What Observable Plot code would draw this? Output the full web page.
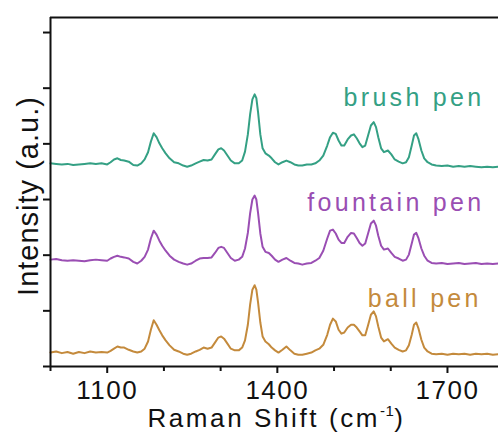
<!DOCTYPE html>
<html><head><meta charset="utf-8">
<script src="https://cdn.jsdelivr.net/npm/d3@7"></script>
<script src="https://cdn.jsdelivr.net/npm/@observablehq/plot@0.6"></script>
<style>
html,body{margin:0;padding:0;background:#fff;}
#chart svg text{letter-spacing:1.5px;}
#chart text.series-label{letter-spacing:3.3px;}
#chart text.y-title{letter-spacing:1px;}
#chart text.x-title{letter-spacing:2.6px;}
#chart tspan.sup{font-size:15px;letter-spacing:0.5px;}
</style></head><body><div id="chart"></div>
<script>
const shift = [1000,1010,1020,1030,1040,1050,1060,1070,1080,1090,
1100,1106,1112,1118,1124,1130,1138,1146,1153,1160,
1166,1172,1177,1182,1187,1192,1197,1203,1210,1218,
1226,1234,1241,1248,1256,1263,1270,1277,1284,1290,
1296,1301,1306,1312,1318,1325,1332,1338,1343,1348,
1352,1356,1360,1363,1366,1370,1374,1379,1385,1390,
1396,1402,1409,1416,1423,1430,1437,1444,1452,1460,
1467,1474,1481,1488,1493,1498,1503,1508,1513,1518,
1524,1530,1535,1540,1545,1550,1555,1560,1565,1570,
1574,1578,1583,1588,1595,1601,1607,1614,1621,1627,
1632,1637,1641,1645,1649,1654,1659,1665,1672,1680,
1690,1700,1710,1720,1730,1740,1750,1760,1770,1780,
1790];
const brushPen = [.02,.01,0,.01,-.01,0,.01,.02,.01,.02,
0,.04,.09,.11,.08,.07,.05,-.01,-.02,.02,
.09,.22,.41,.56,.49,.38,.29,.20,.11,.04,
.02,-.02,-.04,-.02,.02,.05,.08,.07,.09,.18,
.27,.29,.25,.16,.07,.02,.02,.07,.23,.54,
.90,1.17,1.26,1.19,.94,.54,.29,.20,.16,.11,
.04,0,.04,.07,.04,0,-.02,-.02,0,0,
.02,.07,.16,.34,.49,.57,.55,.43,.34,.34,
.45,.52,.54,.47,.38,.31,.34,.52,.70,.76,
.67,.49,.29,.22,.25,.18,.09,.05,.02,.04,
.13,.34,.52,.56,.45,.25,.11,.04,0,-.02,
-.03,-.02,-.04,-.03,-.04,-.03,-.04,-.05,-.04,-.05,
-.04];
const fountainPen = [.02,.03,.01,0,.01,0,-.01,.01,.02,.01,
0,.04,.07,.09,.07,.06,.04,-.02,-.05,0,
.07,.20,.40,.54,.47,.36,.27,.18,.09,.02,
-.02,-.05,-.07,-.05,0,.04,.05,.05,.06,.14,
.23,.25,.23,.14,.05,0,.02,.07,.22,.50,
.85,1.10,1.17,1.10,.86,.49,.25,.16,.14,.09,
.02,-.02,.02,.05,0,-.04,-.05,-.07,-.05,-.04,
0,.05,.18,.40,.54,.56,.49,.38,.32,.32,
.43,.50,.49,.41,.32,.27,.31,.49,.67,.72,
.63,.45,.27,.20,.22,.14,.07,.04,0,.02,
.11,.31,.47,.50,.40,.22,.09,0,-.04,-.05,
-.04,-.06,-.05,-.04,-.06,-.05,-.04,-.06,-.05,-.06,
-.05];
const ballPen = [0,.02,-.01,.01,-.02,.01,-.01,.02,0,.01,
0,.03,.07,.11,.09,.09,.05,.02,0,.02,
.07,.20,.41,.58,.50,.40,.31,.22,.13,.05,
.02,-.02,-.04,-.02,.02,.05,.09,.07,.09,.18,
.27,.29,.25,.16,.07,.04,.04,.09,.22,.50,
.86,1.13,1.21,1.13,.90,.54,.29,.20,.15,.09,
.04,0,.05,.11,.04,-.02,-.04,-.04,-.02,0,
.04,.07,.14,.32,.50,.61,.56,.41,.34,.36,
.45,.50,.50,.45,.38,.31,.31,.49,.68,.74,
.65,.47,.27,.20,.24,.16,.09,.05,.02,.04,
.13,.32,.50,.54,.43,.23,.09,.02,-.02,-.03,
-.02,-.04,-.02,-.03,-.02,-.04,-.02,-.03,-.02,-.04,
-.03];
const seriesNames = ["ball pen","fountain pen","brush pen"];
const seriesValues = [ballPen, fountainPen, brushPen];
const seriesOffsets = [0.25, 1.90, 3.63];
const seriesColors = ["#c48a3c","#9a4eb3","#34a084"];
const labelShift = [1660, 1609, 1641];
const labelIntensity = [1.21, 2.94, 4.83];
const majorTicks = [1100, 1400, 1700];
const minorTicks = [1000, 1200, 1300, 1500, 1600];
const yTicks = [0, 1, 2, 3, 4, 5, 6];
const xDomain = [1000, 1790];
const yDomain = [0, 6.27];
const xTitleMain = "Raman Shift (cm", xTitleSup = "-1", xTitleEnd = ")";
const yTitle = "Intensity (a.u.)";

const data = seriesNames.flatMap((s, i) =>
  shift.map((x, j) => ({x, y: seriesOffsets[i] + seriesValues[i][j], s})));

const xTitle = xTitleMain + xTitleSup + xTitleEnd;
const chart = Plot.plot({
  width: 498, height: 437,
  marginLeft: 50, marginRight: 0, marginTop: 17, marginBottom: 71,
  style: {fontFamily: "'Liberation Sans', Arial, sans-serif", fontSize: "26px", color: "#111", background: "#fff"},
  x: {domain: xDomain},
  y: {domain: yDomain},
  color: {domain: seriesNames, range: seriesColors},
  marks: [
    Plot.line(data, {x: "x", y: "y", z: "s", stroke: "s", strokeWidth: 2}),
    Plot.ruleX([xDomain[0]], {stroke: "#111", strokeWidth: 2}),
    Plot.ruleY([yDomain[0], yDomain[1]], {stroke: "#111", strokeWidth: 2}),
    Plot.axisX({ticks: majorTicks, tickSize: 7, tickPadding: 7, tickFormat: d => String(d), strokeWidth: 2, stroke: "#111", label: null, fontSize: 26}),
    Plot.axisX({ticks: minorTicks, tickSize: 5, tickFormat: () => "", strokeWidth: 2, stroke: "#111", label: null}),
    Plot.axisY({ticks: yTicks, tickSize: 7, tickFormat: () => "", strokeWidth: 2, stroke: "#111", label: null}),
    Plot.text(seriesNames, {x: (d, i) => labelShift[i], y: (d, i) => labelIntensity[i], text: d => d, fill: d => d, fontSize: 25}),
    Plot.text([xTitle], {frameAnchor: "bottom", textAnchor: "middle", dx: 2, dy: 60, fontSize: 26, fill: "#111"}),
    Plot.text([yTitle], {frameAnchor: "left", textAnchor: "middle", rotate: -90, dx: -22, dy: 4, fontSize: 29, fill: "#111"})
  ]
});
document.getElementById("chart").appendChild(chart);
// post-style the texts by content
chart.querySelectorAll("text").forEach(el => {
  const s = el.textContent;
  if (seriesNames.includes(s)) el.classList.add("series-label");
  else if (s === yTitle) el.classList.add("y-title");
  else if (s === xTitle) {
    el.classList.add("x-title");
    const t = d3.select(el);
    t.text("");
    t.append("tspan").text(xTitleMain);
    t.append("tspan").attr("class", "sup").attr("dy", "-11").text(xTitleSup);
    t.append("tspan").attr("dy", "11").text(xTitleEnd);
  }
});
</script></body></html>
